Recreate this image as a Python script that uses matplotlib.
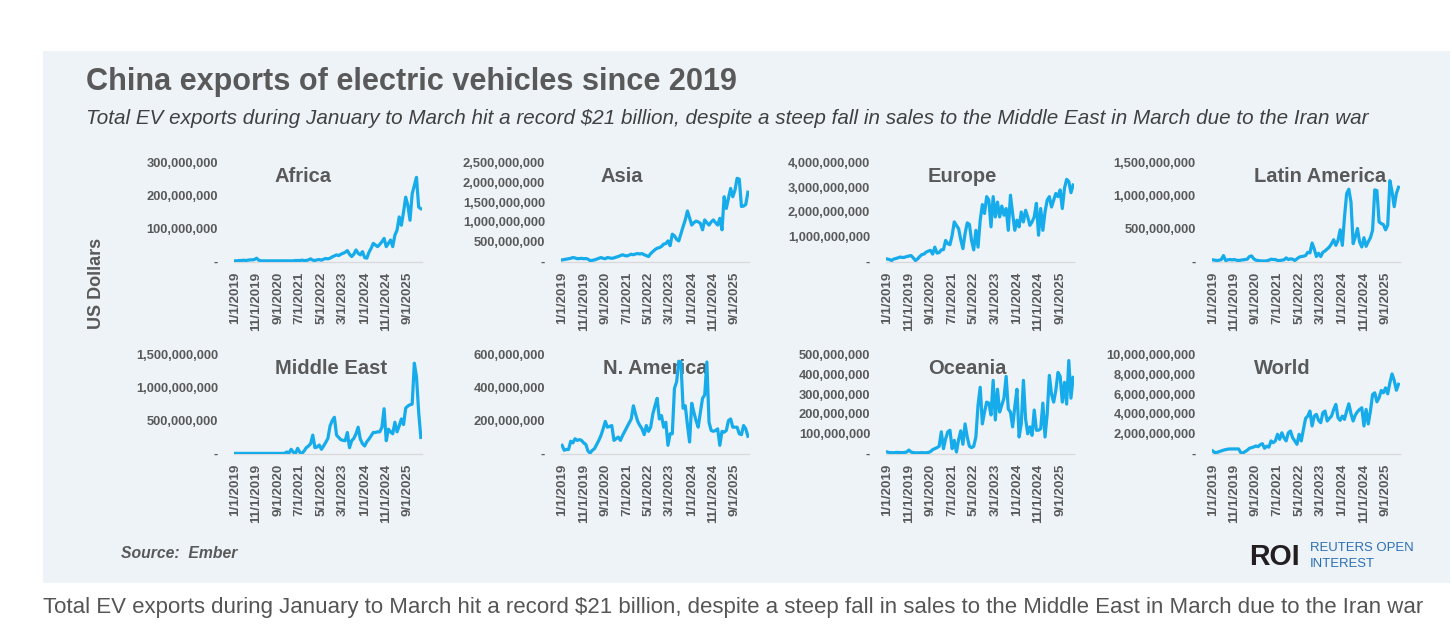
import numpy as np
import pandas as pd
import matplotlib
matplotlib.use("Agg")
import matplotlib.pyplot as plt
from matplotlib.ticker import FuncFormatter, MultipleLocator
from matplotlib.patches import Rectangle

W, H = 1452, 640

# ===== data (USD millions, monthly) =====
months = pd.date_range("2019-01-01", "2026-03-01", freq="MS")
tick_idx = list(range(0, len(months), 10))
tick_labels = [f"{d.month}/1/{d.year}" for d in months[tick_idx]]

regions = ["Africa", "Asia", "Europe", "Latin America",
           "Middle East", "N. America", "Oceania", "World"]

africa = [2, 2, 3, 3, 4, 3, 4, 5, 5, 6, 10, 4,
          2, 2, 2, 2, 2, 2, 2, 2, 2, 2, 2, 2,
          2, 2, 2, 2, 3, 3, 3, 4, 3, 3, 5, 8,
          4, 3, 5, 6, 4, 7, 9, 8, 10, 14, 17, 20,
          18, 22, 25, 28, 33, 22, 15, 22, 35, 25, 20, 30,
          12, 10, 28, 40, 55, 50, 45, 52, 60, 70, 45, 55,
          65, 45, 80, 95, 135, 110, 150, 195, 170, 125, 205, 230,
          255, 165, 160]
asia = [40, 50, 60, 70, 80, 100, 90, 70, 75, 80, 70, 75,
        60, 20, 30, 40, 60, 80, 100, 80, 70, 100, 90, 80,
        90, 110, 125, 150, 170, 150, 140, 160, 185, 170, 190, 200,
        190, 200, 170, 150, 125, 200, 250, 300, 335, 350, 380, 440,
        450, 520, 400, 690, 650, 560, 520, 700, 880, 1050, 1275, 1100,
        920, 980, 1020, 1000, 965, 800, 1050, 980, 920, 1000, 1050, 980,
        920, 1090, 800, 1635, 1340, 1600, 1845, 1635, 1800, 2100, 2080, 1390,
        1400, 1440, 1750]
europe = [100, 80, 40, 100, 120, 150, 180, 160, 170, 200, 220, 240,
          150, 40, 100, 200, 280, 300, 380, 420, 450, 300, 580, 340,
          360, 470, 480, 850, 720, 680, 1050, 1600, 1460, 1330, 880, 520,
          1130, 1560, 1500, 850, 470, 1260, 580, 1670, 2300, 1940, 2620, 2480,
          1400, 2620, 1800, 2400, 1800, 2240, 1870, 2140, 1260, 2680, 1940, 1260,
          1670, 1400, 2000, 1600, 2070, 1800, 1460, 1600, 1800, 2350, 1060, 2140,
          1260, 2000, 2480, 2620, 2200, 2480, 2750, 2620, 2890, 2140, 2960, 3320,
          3230, 2780, 3090]
latin_america = [25, 20, 15, 20, 30, 90, 15, 25, 30, 25, 30, 20,
                 15, 20, 25, 30, 35, 75, 85, 40, 20, 15, 10, 8,
                 8, 10, 20, 35, 30, 30, 15, 15, 20, 25, 55, 30,
                 40, 35, 15, 40, 65, 75, 80, 90, 140, 130, 280, 190,
                 75, 125, 75, 140, 160, 190, 220, 270, 330, 245, 320, 480,
                 245, 675, 1030, 1095, 900, 270, 370, 500, 295, 220, 360, 230,
                 300, 360, 475, 1085, 1075, 600, 575, 560, 480, 550, 1225, 1060,
                 830, 1030, 1125]
middle_east = [3, 3, 3, 3, 3, 3, 3, 3, 3, 3, 3, 3,
               3, 3, 3, 3, 3, 3, 3, 3, 3, 3, 3, 5,
               25, 10, 65, 20, 3, 80, 20, 3, 40, 90, 115, 150,
               280, 90, 100, 130, 65, 115, 170, 230, 420, 500, 550, 280,
               245, 210, 200, 195, 320, 90, 195, 230, 300, 400, 220, 150,
               115, 180, 220, 270, 320, 320, 330, 330, 400, 680, 195, 370,
               330, 300, 475, 330, 420, 525, 440, 690, 720, 740, 750, 1370,
               1160, 630, 245]
n_america = [50, 20, 25, 25, 75, 65, 90, 80, 85, 80, 65, 55,
             15, 4, 20, 30, 55, 80, 110, 150, 195, 160, 165, 170,
             80, 90, 100, 80, 110, 135, 160, 185, 210, 290, 240, 195,
             170, 150, 115, 170, 135, 160, 240, 290, 335, 210, 230, 160,
             190, 50, 120, 120, 395, 435, 560, 555, 275, 290, 175, 70,
             305, 250, 200, 160, 250, 335, 355, 555, 190, 140, 135, 140,
             150, 50, 135, 130, 140, 200, 210, 160, 160, 160, 120, 115,
             170, 150, 105]
oceania = [8, 5, 5, 4, 6, 6, 5, 5, 6, 8, 18, 8,
           5, 4, 4, 4, 5, 4, 4, 6, 10, 20, 25, 30,
           37, 110, 25, 75, 110, 118, 25, 67, 8, 70, 115, 47,
           150, 84, 37, 30, 37, 84, 245, 335, 150, 210, 260, 255,
           195, 370, 170, 325, 210, 245, 280, 390, 225, 210, 135, 235,
           325, 84, 150, 370, 175, 100, 135, 92, 220, 118, 118, 126,
           255, 84, 200, 395, 300, 260, 320, 410, 390, 260, 360, 250,
           470, 280, 385]
world = [270, 100, 120, 200, 270, 350, 400, 450, 470, 470, 470, 470,
         470, 100, 70, 200, 340, 540, 600, 670, 770, 700, 900, 1000,
         540, 750, 650, 1280, 1100, 1280, 1950, 1440, 2100, 1600, 1280, 2100,
         2280, 1600, 1280, 940, 1950, 1280, 2450, 3560, 3790, 4300, 2790, 3790,
         3960, 3360, 3120, 4130, 4300, 3290, 3560, 3790, 4460, 4970, 3620, 3360,
         3790, 3460, 4300, 5030, 4030, 3290, 3890, 4230, 4460, 4630, 2790, 4460,
         3000, 4300, 5970, 6140, 5230, 5640, 6380, 6140, 6640, 6040, 7150, 8050,
         7400, 6400, 7000]

series = [africa, asia, europe, latin_america, middle_east, n_america, oceania, world]
y_top = [300, 2500, 4000, 1500, 1500, 600, 500, 10000]      # millions
y_step = [100, 500, 1000, 500, 500, 200, 100, 2000]

# ===== layout (pixels) =====
col_left = [233.9, 561.0, 886.2, 1211.6]
row_bottom = [261.5, 453.6]
ax_w, ax_h = 188.0, 99.0
title_xy = [(303, 176), (622, 176), (962, 176), (1320, 176),
            (331, 368), (655, 368), (967, 368), (1282, 368)]

GRAY = "#595959"
LINE = "#16ABEB"
BG = "#EEF3F8"
SANS = ["Liberation Sans", "DejaVu Sans"]

fig = plt.figure(figsize=(W / 100, H / 100), dpi=100)
fig.patch.set_facecolor("white")
fig.patches.append(Rectangle((42.7 / W, 1 - 582.7 / H), (1450 - 42.7) / W, (582.7 - 51) / H,
                             transform=fig.transFigure, facecolor=BG, edgecolor="none", zorder=-10))

fmt = FuncFormatter(lambda v, p: "-" if abs(v) < 1 else f"{v:,.0f}")

for i, (name, vals) in enumerate(zip(regions, series)):
    r, c = divmod(i, 4)
    left, bottom = col_left[c], row_bottom[r]
    ax = fig.add_axes([left / W, 1 - bottom / H, ax_w / W, ax_h / H])
    ax.patch.set_alpha(0)
    ax.plot(np.arange(len(months)), np.array(vals) * 1e6, color=LINE, lw=2.3,
            solid_joinstyle="round", zorder=3)
    ax.set_xlim(-0.5, len(months) - 0.5)
    ax.set_ylim(0, y_top[i] * 1e6)
    ax.yaxis.set_major_locator(MultipleLocator(y_step[i] * 1e6))
    ax.yaxis.set_major_formatter(fmt)
    ax.set_xticks(tick_idx)
    ax.set_xticklabels(tick_labels, rotation=90)
    for s in ["top", "left", "right"]:
        ax.spines[s].set_visible(False)
    ax.spines["bottom"].set_color("#D9D9D9")
    ax.spines["bottom"].set_linewidth(0.9)
    ax.tick_params(axis="y", length=0, pad=11.5, labelsize=9.3, labelcolor=GRAY)
    ax.tick_params(axis="x", length=0, pad=7.3, labelsize=9.6, labelcolor=GRAY)
    for lab in ax.get_xticklabels() + ax.get_yticklabels():
        lab.set_fontweight("bold")
        lab.set_family(SANS)
    tx, ty = title_xy[i]
    ax.text((tx - left) / ax_w, (bottom - ty) / ax_h, name, transform=ax.transAxes,
            ha="center", va="center", fontsize=14.5, fontweight="bold", color=GRAY,
            family=SANS, zorder=1, clip_on=False)

renderer = fig.canvas.get_renderer()


def fit(t, target_px):
    w = t.get_window_extent(renderer).width
    t.set_fontsize(t.get_fontsize() * target_px / w)
    return t


fit(fig.text(86 / W, 1 - 90 / H, "China exports of electric vehicles since 2019",
             fontsize=22, fontweight="bold", color=GRAY, family=SANS, va="baseline"), 650)
fit(fig.text(86 / W, 1 - 124.5 / H,
             "Total EV exports during January to March hit a record $21 billion, despite a steep fall "
             "in sales to the Middle East in March due to the Iran war",
             fontsize=14, style="italic", color="#404040", family=SANS, va="baseline"), 1282)
fig.text(97 / W, 1 - 283 / H, "US Dollars", rotation=90, ha="center", va="center",
         fontsize=13, fontweight="bold", color=GRAY, family=SANS)
fit(fig.text(121 / W, 1 - 553 / H, "Source:  Ember", fontsize=10, fontweight="bold",
             style="italic", color=GRAY, family=SANS, va="center"), 117)
fit(fig.text(1249 / W, 1 - 557 / H, "ROI", fontsize=21, fontweight="bold",
             color="#231F20", family=SANS, va="center"), 51)
ro = fit(fig.text(1310 / W, 1 - 548 / H, "REUTERS OPEN",
                  fontsize=10, color="#2A6EB8", family=SANS, va="center"), 103)
fig.text(1310 / W, 1 - 564 / H, "INTEREST", fontsize=ro.get_fontsize(), color="#2A6EB8",
         family=SANS, va="center")
fit(fig.text(43 / W, 1 - 613 / H,
             "Total EV exports during January to March hit a record $21 billion, despite a steep fall "
             "in sales to the Middle East in March due to the Iran war",
             fontsize=14, color="#555555", family=SANS, va="baseline"), 1386)

fig.savefig("out.png", dpi=100, facecolor="white")
